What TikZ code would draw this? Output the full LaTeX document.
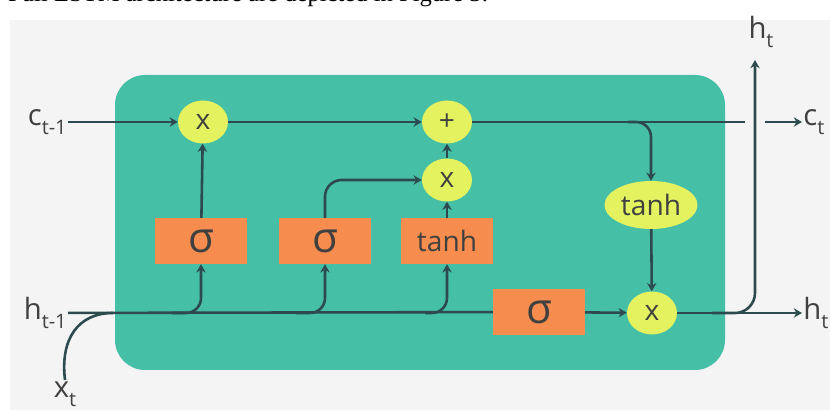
\documentclass[tikz,border=0pt]{standalone}
\usepackage{fontspec}
\setmainfont{Open Sans}
\setsansfont{Open Sans}
\newfontfamily\bodyfont{Liberation Serif}
\usetikzlibrary{arrows.meta, shapes.geometric}
\definecolor{cellcolor}{HTML}{46BFA7}
\definecolor{gatecolor}{HTML}{F68D4E}
\definecolor{opcolor}{HTML}{E3F25E}
\definecolor{wirecolor}{HTML}{2D4A4E}
\definecolor{labelcolor}{HTML}{404040}
\definecolor{paper}{HTML}{F4F4F4}

\newcommand{\withsub}[2]{#1\raisebox{-0.6ex}{\fontsize{17}{17}\selectfont #2}}

\begin{document}
\begin{tikzpicture}[
    x=0.03cm, y=0.03cm,
    every node/.style={font=\sffamily, text=labelcolor},
    lab/.style={font=\sffamily\fontsize{25}{25}\selectfont, text=labelcolor, inner sep=1pt},
    gate/.style={fill=gatecolor, minimum width=2.76cm, minimum height=1.38cm, inner sep=0pt,
                 text=black!75, font=\sffamily\fontsize{36}{36}\selectfont},
    op/.style={ellipse, fill=opcolor, minimum width=1.5cm, minimum height=1.29cm, inner sep=0pt,
               text=black!75, font=\sffamily\fontsize{24}{24}\selectfont},
    wire/.style={wirecolor, line width=2.2pt},
    feed/.style={wire, -{Stealth[length=7pt, width=8pt]}},
]
\clip (0,0) rectangle (830,419);
\fill[white] (0,0) rectangle (830,419);
\fill[paper] (10,9) rectangle (830,399);

% line of text above the figure
\node[anchor=base west, inner sep=0pt, font=\bodyfont\fontsize{21}{21}\selectfont, text=black]
    (caption) at (8,417) {Full LSTM architecture are depicted in Figure 3.};

% the cell
\fill[cellcolor, rounded corners=0.9cm] (115,49) rectangle (725,344);

% operations
\node[op] (mulf) at (203,297) {x};
\node[op] (add)  at (447,297) {+};
\node[op] (muli) at (447,239) {x};
\node[op] (mulo) at (652,106) {x};
\node[op, minimum width=2.79cm, minimum height=1.44cm, font=\sffamily\fontsize{24}{24}\selectfont]
    (squash) at (651,214) {tanh};

% gates
\node[gate] (forget) at (201,178) {σ};
\node[gate] (input)  at (325,178) {σ};
\node[gate, font=\sffamily\fontsize{24}{24}\selectfont] (cand) at (447,178) {tanh};
\node[gate] (output) at (539,107) {σ};

% inputs and outputs
\node[lab, anchor=east] (cin)  at (68,297) {\withsub{c}{t-1}};
\node[lab, anchor=east] (hin)  at (68,106) {\withsub{h}{t-1}};
\node[lab] (xin)  at (65,25)  {\withsub{x}{t}};
\node[lab, anchor=west] (cout) at (802,297) {\withsub{c}{t}};
\node[lab, anchor=west] (hout) at (802,106) {\withsub{h}{t}};
\node[lab] (htop) at (761,387) {\withsub{h}{t}};

\coordinate (join)  at (113,106);
\coordinate (cgap)  at (745,297);
\coordinate (cjump) at (765,297);
\coordinate (hup)   at (755,359);

% cell state
\draw[feed] (cin) -- (mulf);
\draw[feed] (mulf) -- (add);
\draw[wire] (add) -- (cgap);
\draw[feed] (cjump) -- (cout);
\draw[feed, rounded corners=0.45cm] (628,297) -| (squash.north);

% hidden state and input
\draw[wire] (xin.north) .. controls (60,80) and (78,106) .. (join);
\draw[wire] (hin) -- (output);
\draw[feed, rounded corners=0.45cm] (172,106) -| (forget.south);
\draw[feed, rounded corners=0.45cm] (296,106) -| (input.south);
\draw[feed, rounded corners=0.45cm] (425,106) -| (cand.south);

% gates into the operations
\draw[feed] (forget) -- (mulf);
\draw[feed, rounded corners=0.5cm] (input.north) |- (muli);
\draw[feed] (cand) -- (muli);
\draw[feed] (muli) -- (add);
\draw[feed] (output) -- (mulo);
\draw[feed] (squash) -- (mulo);

% new hidden state
\draw[feed] (mulo) -- (hout);
\draw[feed, rounded corners=0.6cm] (712,106) -| (hup);
\end{tikzpicture}
\end{document}
